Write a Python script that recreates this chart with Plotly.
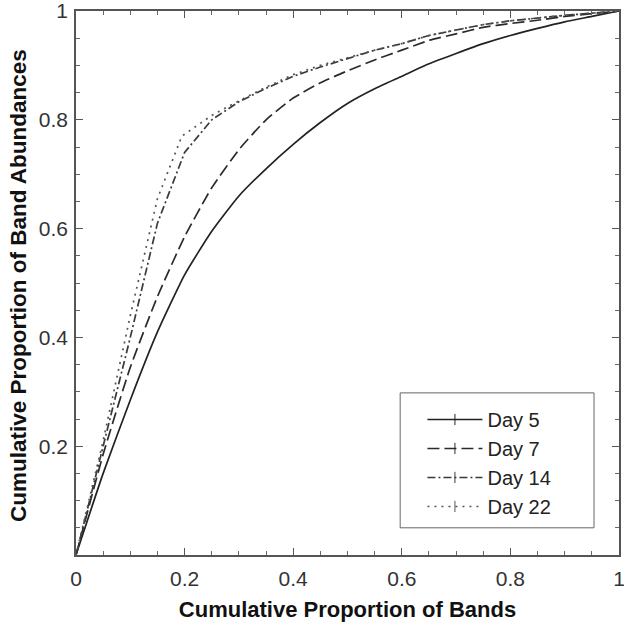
import plotly.graph_objects as go

x_day5 = [0, 0.05, 0.1, 0.15, 0.2, 0.25, 0.3, 0.35, 0.4, 0.45, 0.5, 0.55, 0.6, 0.65, 0.7, 0.75, 0.8, 0.85, 0.9, 0.95, 1.0]
y_day5 = [0, 0.15, 0.285, 0.41, 0.515, 0.595, 0.66, 0.71, 0.755, 0.795, 0.83, 0.857, 0.88, 0.903, 0.922, 0.94, 0.955, 0.968, 0.98, 0.99, 1.0]

x_day7 = [0, 0.05, 0.1, 0.15, 0.2, 0.25, 0.3, 0.35, 0.4, 0.45, 0.5, 0.55, 0.6, 0.65, 0.7, 0.75, 0.8, 0.85, 0.9, 0.95, 1.0]
y_day7 = [0, 0.185, 0.345, 0.475, 0.585, 0.675, 0.745, 0.80, 0.84, 0.868, 0.89, 0.91, 0.928, 0.946, 0.958, 0.97, 0.977, 0.983, 0.99, 0.995, 1.0]

x_day14 = [0, 0.05, 0.1, 0.15, 0.2, 0.25, 0.3, 0.35, 0.4, 0.45, 0.5, 0.55, 0.6, 0.65, 0.7, 0.75, 0.8, 0.9, 1.0]
y_day14 = [0, 0.2, 0.4, 0.61, 0.74, 0.80, 0.833, 0.858, 0.88, 0.897, 0.912, 0.928, 0.94, 0.955, 0.965, 0.975, 0.982, 0.992, 1.0]

x_day22 = [0, 0.05, 0.1, 0.15, 0.195, 0.25, 0.3, 0.35, 0.4, 0.45, 0.5, 0.55, 0.6, 0.65, 0.7, 0.75, 0.8, 0.9, 1.0]
y_day22 = [0, 0.21, 0.44, 0.655, 0.77, 0.808, 0.835, 0.86, 0.883, 0.90, 0.914, 0.928, 0.94, 0.955, 0.965, 0.975, 0.982, 0.992, 1.0]

series = [
    ("Day 5", x_day5, y_day5, "solid", "#222222", "spline"),
    ("Day 7", x_day7, y_day7, "12px,5px", "#2a2a2a", "spline"),
    ("Day 14", x_day14, y_day14, "8px,3px,2px,3px", "#3a3a3a", "linear"),
    ("Day 22", x_day22, y_day22, "2px,5px", "#555555", "linear"),
]

x_ticks = [0, 0.2, 0.4, 0.6, 0.8, 1.0]
x_tick_text = ["0", "0.2", "0.4", "0.6", "0.8", "1"]
y_ticks = [0.2, 0.4, 0.6, 0.8, 1.0]
y_tick_text = ["0.2", "0.4", "0.6", "0.8", "1"]

FONT = "Liberation Sans, Arial, sans-serif"

fig = go.Figure()
for name, xs, ys, dash, color, shape in series:
    fig.add_trace(go.Scatter(x=xs, y=ys, mode="lines", name=name, showlegend=False,
                             line=dict(color=color, width=1.7, dash=dash, shape=shape, smoothing=0.5)))
for name, xs, ys, dash, color, shape in series:
    fig.add_trace(go.Scatter(x=[None], y=[None], mode="lines+markers", name=name,
                             line=dict(color=color, width=1.6, dash=dash),
                             marker=dict(symbol="line-ns-open", size=8, color=color,
                                         line=dict(color=color, width=1))))

axis_common = dict(
    range=[0, 1], showgrid=False, zeroline=False, automargin=False,
    showline=True, linecolor="#555555", linewidth=1.5, mirror="allticks",
    ticks="inside", ticklen=7, tickcolor="#555555", tickwidth=1,
    ticklabeloverflow="allow",
    tickfont=dict(family=FONT, size=21, color="#333333"),
    minor=dict(dtick=0.05, tick0=0, ticks="inside", ticklen=4, tickcolor="#666666"),
)

# legend frame (drawn in paper coordinates)
fig.add_shape(type="rect", xref="paper", yref="paper",
              x0=0.597, x1=0.954, y0=0.050, y1=0.298,
              line=dict(color="#666666", width=1), fillcolor="white", layer="below")

# y-axis title as an annotation for precise placement
fig.add_annotation(text="<b>Cumulative Proportion of Band Abundances</b>",
                   xref="paper", yref="paper", x=-0.107, y=0.496,
                   xanchor="center", yanchor="middle", textangle=-90, showarrow=False,
                   font=dict(family=FONT, size=22.5, color="#111111"))

fig.update_layout(
    width=624, height=628,
    margin=dict(l=76, r=5, t=11, b=73),
    paper_bgcolor="white", plot_bgcolor="white",
    font=dict(family=FONT, color="#222222"),
    xaxis=dict(axis_common, tickmode="array", tickvals=x_ticks, ticktext=x_tick_text,
               ticklabelstandoff=4,
               title=dict(text="<b>Cumulative Proportion of Bands</b>", standoff=13,
                          font=dict(family=FONT, size=22, color="#111111"))),
    yaxis=dict(axis_common, tickmode="array", tickvals=y_ticks, ticktext=y_tick_text,
               ticklabelstandoff=2),
    legend=dict(x=0.638, y=0.285, xanchor="left", yanchor="top",
                borderwidth=0, bgcolor="rgba(0,0,0,0)",
                font=dict(family=FONT, size=20, color="#222222"), tracegroupgap=0,
                itemwidth=55),
)

fig.write_html("out.html", config={"displayModeBar": False},
               post_script="document.body.style.margin='0';document.body.style.overflow='hidden';")
